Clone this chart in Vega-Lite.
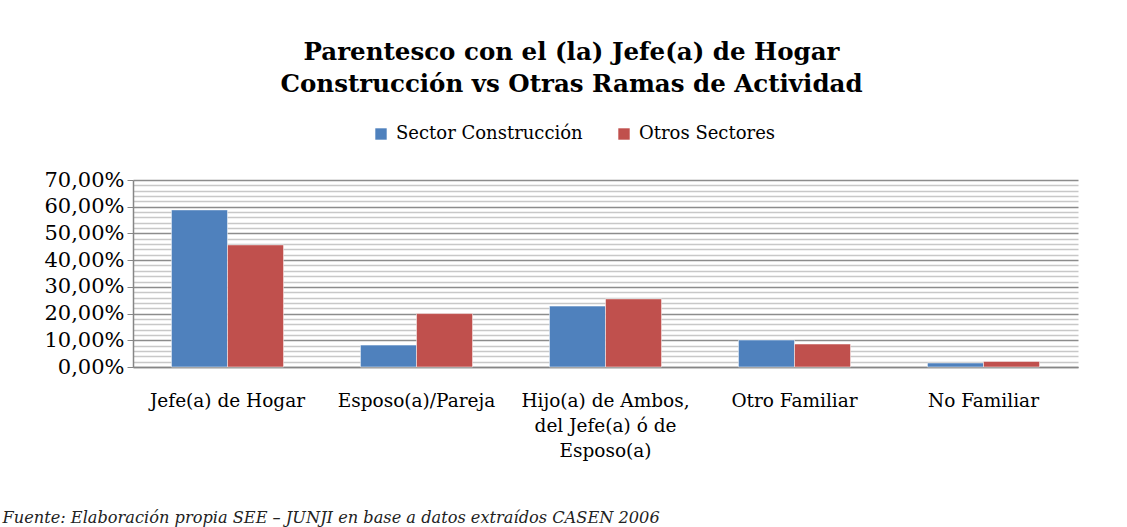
{
  "$schema": "https://vega.github.io/schema/vega-lite/v6.json",
  "width": 945,
  "height": 187,
  "autosize": {"type": "none"},
  "padding": {"left": 133, "top": 180, "right": 49, "bottom": 160},
  "background": "white",
  "title": {
    "text": ["Parentesco con el (la) Jefe(a) de Hogar", "Construcción vs Otras Ramas de Actividad"],
    "anchor": "middle",
    "frame": "group",
    "dx": -34,
    "offset": 28,
    "font": "DejaVu Serif",
    "fontSize": 24.5,
    "fontWeight": "bold",
    "lineHeight": 32,
    "color": "black"
  },
  "config": {
    "locale": {"number": {"decimal": ",", "thousands": ".", "grouping": [3], "currency": ["$", ""]}},
    "view": {"stroke": null},
    "font": "DejaVu Serif"
  },
  "data": {
    "values": [
      {"parentesco": "Jefe(a) de Hogar", "sector": "Sector Construcción", "valor": 0.588},
      {"parentesco": "Jefe(a) de Hogar", "sector": "Otros Sectores", "valor": 0.457},
      {"parentesco": "Esposo(a)/Pareja", "sector": "Sector Construcción", "valor": 0.082},
      {"parentesco": "Esposo(a)/Pareja", "sector": "Otros Sectores", "valor": 0.2},
      {"parentesco": "Hijo(a) de Ambos, del Jefe(a) ó de Esposo(a)", "sector": "Sector Construcción", "valor": 0.228},
      {"parentesco": "Hijo(a) de Ambos, del Jefe(a) ó de Esposo(a)", "sector": "Otros Sectores", "valor": 0.255},
      {"parentesco": "Otro Familiar", "sector": "Sector Construcción", "valor": 0.101},
      {"parentesco": "Otro Familiar", "sector": "Otros Sectores", "valor": 0.086},
      {"parentesco": "No Familiar", "sector": "Sector Construcción", "valor": 0.015},
      {"parentesco": "No Familiar", "sector": "Otros Sectores", "valor": 0.021}
    ]
  },
  "mark": {"type": "bar", "stroke": "white", "strokeWidth": 0.5},
  "encoding": {
    "x": {
      "field": "parentesco",
      "type": "nominal",
      "sort": ["Jefe(a) de Hogar", "Esposo(a)/Pareja", "Hijo(a) de Ambos, del Jefe(a) ó de Esposo(a)", "Otro Familiar", "No Familiar"],
      "scale": {"paddingInner": 0.407, "paddingOuter": 0.2035},
      "axis": {
        "title": "Fuente: Elaboración propia SEE – JUNJI en base a datos extraídos CASEN 2006",
        "titleFont": "DejaVu Serif",
        "titleFontStyle": "italic",
        "titleFontWeight": "normal",
        "titleFontSize": 16.2,
        "titleColor": "#222",
        "titleAlign": "left",
        "titleAnchor": "start",
        "titleBaseline": "alphabetic",
        "titleX": -131,
        "titleY": 155,
        "labelAngle": 0,
        "labelFontSize": 18.5,
        "labelFont": "DejaVu Serif",
        "labelColor": "black",
        "labelPadding": 24,
        "labelLineHeight": 25,
        "labelExpr": "datum.value == 'Hijo(a) de Ambos, del Jefe(a) ó de Esposo(a)' ? ['Hijo(a) de Ambos,', 'del Jefe(a) ó de', 'Esposo(a)'] : datum.value",
        "ticks": false,
        "domainColor": "#868686",
        "domainWidth": 1.5,
        "grid": false
      }
    },
    "xOffset": {"field": "sector", "type": "nominal", "sort": ["Sector Construcción", "Otros Sectores"]},
    "y": {
      "field": "valor",
      "type": "quantitative",
      "scale": {"domain": [0, 0.7], "nice": false},
      "axis": {
        "title": null,
        "format": ".2%",
        "values": [0, 0.02, 0.04, 0.06, 0.08, 0.1, 0.12, 0.14, 0.16, 0.18, 0.2, 0.22, 0.24, 0.26, 0.28, 0.3, 0.32, 0.34, 0.36, 0.38, 0.4, 0.42, 0.44, 0.46, 0.48, 0.5, 0.52, 0.54, 0.56, 0.58, 0.6, 0.62, 0.64, 0.66, 0.68, 0.7],
        "labelExpr": "round(datum.value * 100) % 10 === 0 ? datum.label : ''",
        "labelFontSize": 21,
        "labelFont": "DejaVu Serif",
        "labelColor": "black",
        "labelPadding": 3,
        "tickSize": 6,
        "tickColor": "#868686",
        "tickOpacity": {"condition": {"test": "round(datum.value * 100) % 10 === 0", "value": 1}, "value": 0},
        "domainColor": "#868686",
        "domainWidth": 1.5,
        "grid": true,
        "gridColor": {"condition": {"test": "round(datum.value * 100) % 10 === 0", "value": "#8c8c8c"}, "value": "#c8c8c8"},
        "gridWidth": 1.5
      }
    },
    "color": {
      "field": "sector",
      "type": "nominal",
      "sort": ["Sector Construcción", "Otros Sectores"],
      "scale": {"domain": ["Sector Construcción", "Otros Sectores"], "range": ["#4F81BD", "#C0504D"]},
      "legend": {
        "title": null,
        "orient": "none",
        "direction": "horizontal",
        "legendX": 239,
        "legendY": -55,
        "symbolType": "square",
        "symbolSize": 130,
        "symbolStrokeWidth": 0,
        "labelFontSize": 18,
        "labelColor": "black",
        "labelFont": "DejaVu Serif",
        "labelLimit": 400,
        "columnPadding": 32,
        "labelOffset": 6
      }
    }
  }
}
